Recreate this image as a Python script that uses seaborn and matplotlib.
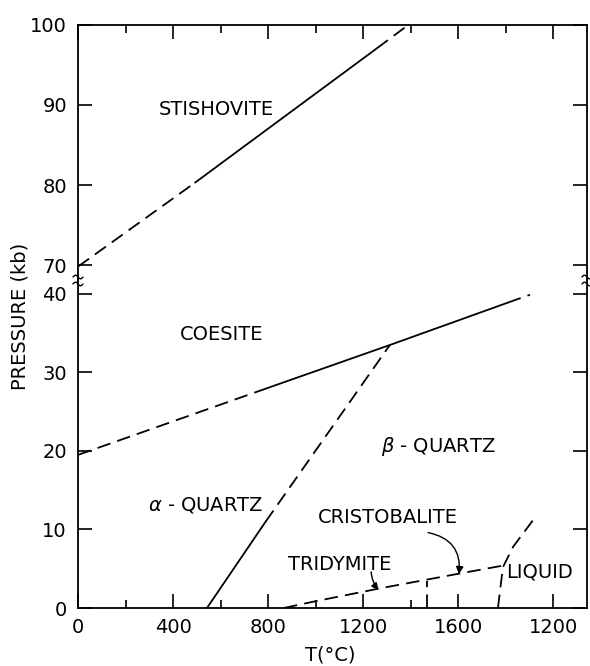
import numpy as np
import matplotlib
matplotlib.use("Agg")
import matplotlib.pyplot as plt
from matplotlib.lines import Line2D
import seaborn as sns

# ---------------- data (T in deg C, P in kb) ----------------
stishovite_T = [0, 493, 1259, 1390]
stishovite_P = [69.8, 80.3, 97.1, 100.0]
stishovite_style = ["dash", "solid", "dash"]

coesite_T = [0, 796, 1313, 1810, 1903]
coesite_P = [19.5, 28.0, 33.5, 38.9, 39.9]
coesite_style = ["dash", "solid", "solid", "dash"]

alpha_beta_T = [543, 790, 1313]
alpha_beta_P = [0.0, 11.0, 33.5]
alpha_beta_style = ["solid", "dash"]

tridymite_T = [867, 990, 1271, 1608, 1789]
tridymite_P = [0.0, 0.8, 2.5, 4.4, 5.4]
tridymite_style = ["dash"] * 4

trid_crist_T = [1470, 1470]
trid_crist_P = [0.0, 3.5]
trid_crist_style = ["dash"]

liquid_T = [1768, 1789, 1832, 1916]
liquid_P = [0.0, 5.2, 7.8, 11.2]
liquid_style = ["dash"] * 3

x_ticks = [0, 400, 800, 1200, 1600, 2000]
x_ticklabels = ["0", "400", "800", "1200", "1600", "1200"]
x_minor = [200, 600, 1000, 1400, 1800]
y_top_ticks = [70, 80, 90, 100]
y_bot_ticks = [0, 10, 20, 30, 40]

field_labels_top = [("STISHOVITE", 581, 89.4)]
field_labels_bot = [
    ("COESITE", 606, 34.8),
    (r"$\alpha$ - QUARTZ", 539, 13.1),
    (r"$\beta$ - QUARTZ", 1516, 20.6),
    ("CRISTOBALITE", 1306, 11.5),
    ("TRIDYMITE", 1103, 5.5),
    ("LIQUID", 1945, 4.6),
]

# ---------------- style ----------------
sns.set_style("ticks")
plt.rcParams["font.family"] = ["DejaVu Sans"]
plt.rcParams["text.color"] = "black"
plt.rcParams["axes.labelcolor"] = "black"
plt.rcParams["xtick.color"] = "black"
plt.rcParams["ytick.color"] = "black"
FS = 14

W, H = 590, 666
fig = plt.figure(figsize=(W / 100, H / 100), dpi=100)

def fx(px):
    return px / W

def fy(py):
    return 1 - py / H

left, right = 78, 587
top_t, brk, bot_b = 25, 280, 608
ax_top = fig.add_axes([fx(left), fy(brk), fx(right) - fx(left), fy(top_t) - fy(brk)])
ax_bot = fig.add_axes([fx(left), fy(bot_b), fx(right) - fx(left), fy(brk) - fy(bot_b)])

XMAX = 2143
ax_top.set_xlim(0, XMAX)
ax_bot.set_xlim(0, XMAX)

DASH = (0, (7.5, 4))
LW = 1.3

def draw(ax, T, P, styles):
    # group consecutive segments with the same style
    i = 0
    n = len(styles)
    while i < n:
        j = i
        while j + 1 < n and styles[j + 1] == styles[i]:
            j += 1
        xs = T[i:j + 2]
        ys = P[i:j + 2]
        ls = DASH if styles[i] == "dash" else "-"
        sns.lineplot(x=xs, y=ys, ax=ax, color="black", lw=LW, linestyle=ls,
                     sort=False, estimator=None, legend=False)
        i = j + 1

draw(ax_top, stishovite_T, stishovite_P, stishovite_style)
draw(ax_bot, coesite_T, coesite_P, coesite_style)
draw(ax_bot, alpha_beta_T, alpha_beta_P, alpha_beta_style)
draw(ax_bot, tridymite_T, tridymite_P, tridymite_style)
draw(ax_bot, trid_crist_T, trid_crist_P, trid_crist_style)
draw(ax_bot, liquid_T, liquid_P, liquid_style)

ax_top.set_ylim(68.125, 100)
ax_bot.set_ylim(0, 41.78)

for ax in (ax_top, ax_bot):
    ax.set_xlabel("")
    ax.set_ylabel("")
    for s in ax.spines.values():
        s.set_linewidth(1.3)
        s.set_color("black")

ax_top.spines["bottom"].set_visible(False)
ax_bot.spines["top"].set_visible(False)

# ticks
ax_top.set_xticks(x_ticks)
ax_top.set_xticks(x_minor, minor=True)
ax_top.tick_params(axis="x", which="both", bottom=False, top=True, labelbottom=False,
                   direction="in")
ax_top.tick_params(axis="x", which="major", length=10, width=1.2)
ax_top.tick_params(axis="x", which="minor", length=6, width=1.2)
ax_top.set_yticks(y_top_ticks)
ax_top.set_yticklabels([str(v) for v in y_top_ticks])
ax_top.tick_params(axis="y", which="both", left=True, right=True, direction="in",
                   length=10, width=1.2, labelsize=FS, pad=8)
ax_top.yaxis.set_minor_locator(matplotlib.ticker.NullLocator())

ax_bot.set_xticks(x_ticks)
ax_bot.set_xticklabels(x_ticklabels)
ax_bot.set_xticks(x_minor[:-1], minor=True)
ax_bot.tick_params(axis="x", which="both", bottom=True, top=False, direction="in",
                   labelsize=FS, pad=7)
ax_bot.tick_params(axis="x", which="major", length=10, width=1.2)
ax_bot.tick_params(axis="x", which="minor", length=6, width=1.2)
ax_bot.set_yticks(y_bot_ticks)
ax_bot.set_yticklabels([str(v) for v in y_bot_ticks])
ax_bot.tick_params(axis="y", which="both", left=True, right=True, direction="in",
                   length=10, width=1.2, labelsize=FS, pad=8)
ax_bot.yaxis.set_minor_locator(matplotlib.ticker.NullLocator())

# field labels
for txt, x, y in field_labels_top:
    ax_top.text(x, y, txt, ha="center", va="center", fontsize=FS, color="black")
for txt, x, y in field_labels_bot:
    ax_bot.text(x, y, txt, ha="center", va="center", fontsize=FS, color="black")

# arrows
ax_bot.annotate("", xy=(1604, 4.3), xytext=(1474, 9.6),
                arrowprops=dict(arrowstyle="-|>", color="black", lw=1.0,
                                connectionstyle="arc3,rad=-0.45",
                                shrinkA=0, shrinkB=0, mutation_scale=11))
ax_bot.annotate("", xy=(1265, 2.3), xytext=(1234, 4.6),
                arrowprops=dict(arrowstyle="-|>", color="black", lw=1.0,
                                connectionstyle="arc3,rad=0.15",
                                shrinkA=0, shrinkB=0, mutation_scale=10))

# break marks on both spines
t = np.linspace(-1, 1, 20)
for xc in (left, right):
    for y0 in (277, 284):
        xs = xc + 5 * t
        ys = y0 + 1.8 * np.sin(np.pi * t)
        fig.add_artist(Line2D(fx(xs), fy(ys), color="black", lw=1.0))

# axis titles
fig.text(fx(20), fy(316), "PRESSURE (kb)", rotation=90, ha="center", va="center",
         fontsize=FS, color="black")
fig.text(fx(330), fy(655), "T(\u00b0C)", ha="center", va="center", fontsize=FS,
         color="black")

fig.savefig("out.png", dpi=100)
